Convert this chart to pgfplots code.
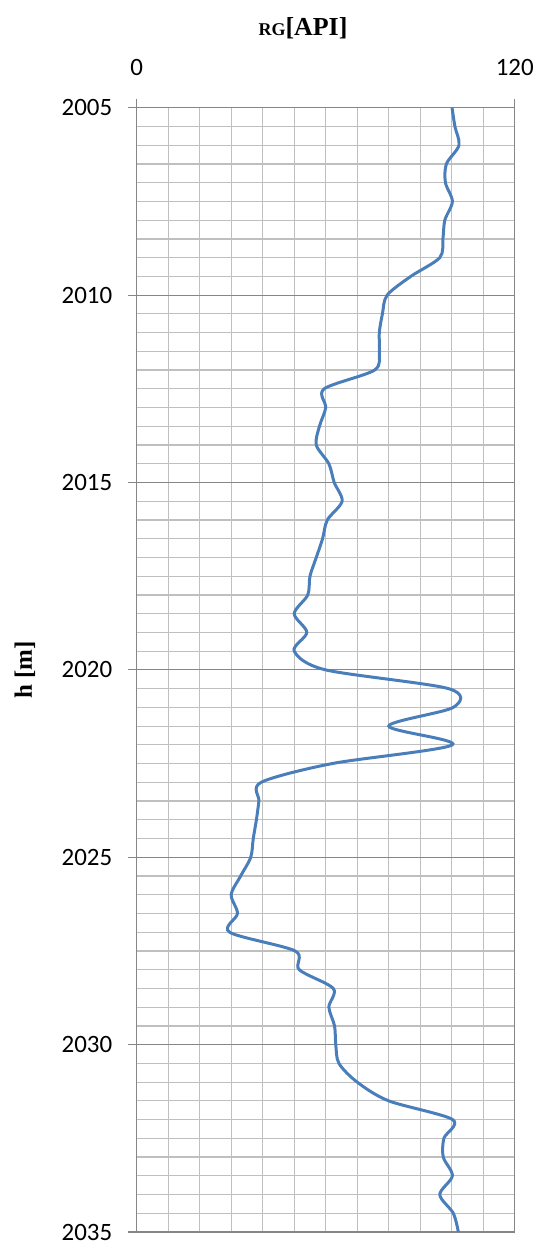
\documentclass[border=0pt]{standalone}
\usepackage{pgfplots}
\pgfplotsset{compat=1.18}
\usepackage{fontspec}
\setmainfont{Carlito}
\newfontfamily\timesfont{Liberation Serif}

\definecolor{gridmajor}{HTML}{868686}
\definecolor{gridminor}{HTML}{BFBFBF}
\definecolor{logblue}{HTML}{4A7EBB}

\pgfplotstableread{
gr     h
100.1  2005.0
101.0  2005.5
102.3  2006.0
98.3   2006.5
98.0   2007.0
100.2  2007.5
97.8   2008.0
97.2   2008.5
96.2   2009.0
87.0   2009.5
79.5   2010.0
78.0   2010.5
77.0   2011.0
77.0   2011.5
75.5   2012.0
59.5   2012.5
60.0   2013.0
58.0   2013.5
57.0   2014.0
61.0   2014.5
62.7   2015.0
65.2   2015.5
60.5   2016.0
59.0   2016.5
57.0   2017.0
55.0   2017.5
54.3   2018.0
50.0   2018.5
54.0   2019.0
50.0   2019.5
60.0   2020.0
99.0   2020.5
100.5  2021.0
80.0   2021.5
100.2  2022.0
62.0   2022.5
39.5   2023.0
38.8   2023.5
38.0   2024.0
37.0   2024.5
36.2   2025.0
33.0   2025.5
30.0   2026.0
32.0   2026.5
29.5   2027.0
50.3   2027.5
51.6   2028.0
62.4   2028.5
61.0   2029.0
62.8   2029.5
63.2   2030.0
64.2   2030.5
70.0   2031.0
80.0   2031.5
100.3  2032.0
97.5   2032.5
97.3   2033.0
100.2  2033.5
96.2   2034.0
100.5  2034.5
102.1  2035.0
}\rgdata

\begin{document}
\begin{tikzpicture}
\begin{axis}[name=ax, scale only axis, width=379pt, height=1127pt,
  xmin=0, xmax=120, ymin=2005, ymax=2035, y dir=reverse,
  xtick={0,120}, minor xtick={10,20,...,110},
  ytick={2005,2010,...,2035}, minor ytick={2005.5,2006,...,2034.5},
  xminorgrids, ymajorgrids, yminorgrids,
  major grid style={draw=gridmajor, line width=1.2pt},
  minor grid style={draw=gridminor, line width=1.2pt},
  axis line style={draw=gridmajor, line width=1.3pt},
  tick style={draw=gridmajor, line width=1.2pt},
  tick align=outside, major tick length=9pt, minor tick length=0pt,
  xtick pos=upper, xticklabel pos=upper, ytick pos=left,
  ticklabel style={font=\fontsize{25}{30}\selectfont},
  /pgf/number format/.cd, 1000 sep={}, assume math mode=true,
  /pgfplots/.cd,
  xticklabel style={anchor=south, yshift=20pt},
  yticklabel style={anchor=east, xshift=-12pt},
  title={\timesfont\bfseries{\fontsize{18}{20}\selectfont RG}{\fontsize{26}{30}\selectfont[API]}},
  title style={at={(0.44,1)}, anchor=base, yshift=66pt},
  ylabel={\timesfont\bfseries\fontsize{25}{30}\selectfont h [m]},
  ylabel style={at={(axis description cs:-0.2955,0.5)}, anchor=center},
]
\addplot[logblue, line width=3pt, smooth, tension=0.5] table[x=gr, y=h] {\rgdata};
\end{axis}
\pgfresetboundingbox
\path[use as bounding box] ([shift={(-137pt,-13pt)}]ax.south west) rectangle ([shift={(22pt,108pt)}]ax.north east);
\end{tikzpicture}
\end{document}
